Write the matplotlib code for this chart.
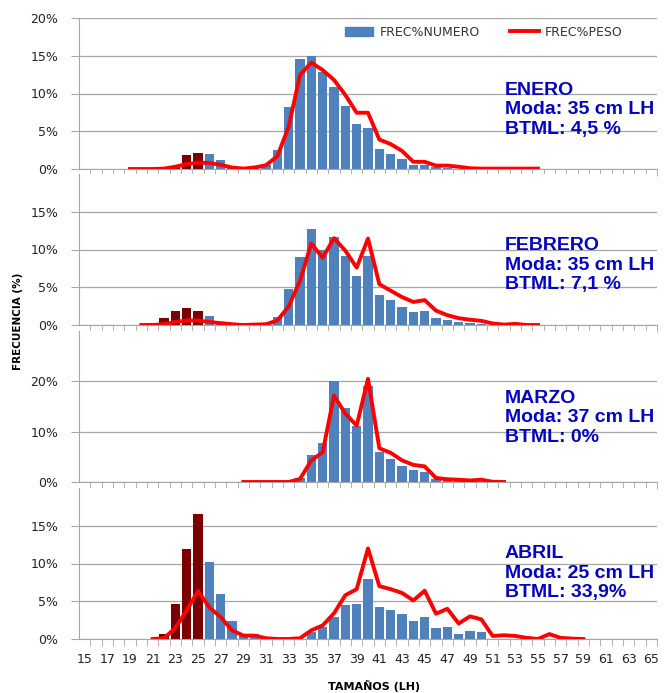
import numpy as np
import matplotlib
matplotlib.use("Agg")
import matplotlib.pyplot as plt
from matplotlib.lines import Line2D
from matplotlib.patches import Patch

# tallas (cm LH), una categoria por cm
tallas = list(range(15, 66))
talla_minima = 26  # bajo talla minima legal -> barras granate

# FREC% NUMERO (barras), tallas 15..65
ene_num = [0, 0, 0, 0, 0, 0, 0, 0.2, 0.3, 1.9, 2.1, 2.0, 1.15, 0.4, 0.1, 0.2, 0.5,
           2.5, 8.2, 14.6, 15.0, 12.8, 10.8, 8.4, 5.9, 5.4, 2.65, 1.95, 1.3, 0.5, 0.5,
           0.2, 0.1, 0, 0, 0, 0, 0, 0, 0, 0, 0, 0, 0, 0, 0, 0, 0, 0, 0, 0]
feb_num = [0, 0, 0, 0, 0, 0, 0.2, 0.9, 1.9, 2.25, 1.85, 1.2, 0.4, 0.1, 0, 0, 0,
           1.0, 4.75, 9.0, 12.7, 9.9, 11.6, 9.2, 6.5, 9.2, 3.95, 3.25, 2.4, 1.73, 1.9,
           0.9, 0.6, 0.4, 0.2, 0.1, 0, 0, 0, 0, 0, 0, 0, 0, 0, 0, 0, 0, 0, 0, 0]
mar_num = [0, 0, 0, 0, 0, 0, 0, 0, 0, 0, 0, 0, 0, 0, 0, 0, 0,
           0, 0, 0.7, 5.4, 7.7, 20.0, 14.8, 11.2, 19.0, 5.95, 4.6, 3.2, 2.45, 1.9,
           0.6, 0.4, 0.3, 0.2, 0, 0, 0, 0, 0, 0, 0, 0, 0, 0, 0, 0, 0, 0, 0, 0]
abr_num = [0, 0, 0, 0, 0, 0, 0, 0.7, 4.7, 11.9, 16.6, 10.25, 6.0, 2.45, 0.4, 0.6, 0,
           0, 0, 0, 0.9, 1.6, 2.9, 4.5, 4.6, 8.0, 4.3, 3.8, 3.3, 2.45, 2.9,
           1.4, 1.6, 0.7, 1.05, 0.9, 0, 0, 0, 0, 0, 0, 0, 0, 0, 0, 0, 0, 0, 0, 0]

# FREC% PESO (linea): talla inicial y valores
ene_peso_ini = 19
ene_peso = [0, 0, 0, 0.05, 0.3, 0.65, 0.85, 0.8, 0.55, 0.2, 0.05, 0.2, 0.5, 1.7, 5.6,
            12.45, 14.1, 13.1, 11.8, 9.8, 7.45, 7.45, 3.9, 3.3, 2.4, 0.95, 0.95, 0.45,
            0.45, 0.3, 0.1, 0.05, 0.05, 0.05, 0.05, 0.05, 0.05]
feb_peso_ini = 20
feb_peso = [0, 0, 0.1, 0.4, 0.6, 0.6, 0.4, 0.25, 0.1, 0, 0.05, 0.1, 0.6, 2.45, 5.85,
            10.8, 8.9, 11.5, 9.85, 7.6, 11.45, 5.4, 4.55, 3.7, 3.05, 3.3, 1.9, 1.3, 0.9,
            0.7, 0.55, 0.2, 0.05, 0.15, 0, 0]
mar_peso_ini = 29
mar_peso = [0, 0, 0, 0, 0, 0.6, 4.3, 5.9, 17.15, 13.6, 11.2, 20.5, 6.7, 5.8, 4.3, 3.4,
            3.1, 0.8, 0.55, 0.45, 0.3, 0.45, 0.05, 0]
abr_peso_ini = 21
abr_peso = [0, 0.1, 1.45, 3.8, 6.35, 4.2, 2.9, 1.15, 0.45, 0.45, 0.1, 0, 0, 0.1, 1.15,
            1.8, 3.4, 5.8, 6.6, 12.0, 7.0, 6.6, 6.1, 5.1, 6.4, 3.35, 4.0, 2.05, 3.0, 2.6,
            0.4, 0.5, 0.4, 0.15, 0, 0.65, 0.15, 0.05, 0]

meses = ["ENERO", "FEBRERO", "MARZO", "ABRIL"]
modas = [35, 35, 37, 25]
btml = ["4,5 %", "7,1 %", "0%", "33,9%"]
y_max = [20, 20, 30, 20]
y_ticks = [[0, 5, 10, 15, 20], [0, 5, 10, 15], [0, 10, 20], [0, 5, 10, 15]]

numeros = [ene_num, feb_num, mar_num, abr_num]
pesos = [(ene_peso_ini, ene_peso), (feb_peso_ini, feb_peso),
         (mar_peso_ini, mar_peso), (abr_peso_ini, abr_peso)]

azul = "#4F81BD"
granate = "#7A0000"
rojo = "#FF0000"
gris = "#A6A6A6"
texto_azul = "#0505C0"

W, H = 670, 693
fig = plt.figure(figsize=(W / 100, H / 100), dpi=100)

# posiciones de los paneles en pixeles (arriba, abajo)
paneles = [(18, 169), (174, 325), (331, 482), (488, 639)]
texto_y = [0.391, 0.397, 0.424, 0.437]
x0, x1 = 79, 657

for i, (top, bot) in enumerate(paneles):
    ax = fig.add_axes([x0 / W, 1 - bot / H, (x1 - x0) / W, (bot - top) / H])
    vals = numeros[i]
    cols = [granate if t < talla_minima else azul for t in tallas]
    ax.bar(tallas, vals, width=0.82, color=cols, zorder=2)

    ini, pv = pesos[i]
    xs = list(range(ini, ini + len(pv)))
    ax.plot(xs, pv, color=rojo, lw=2.8, zorder=3, solid_joinstyle="round")

    ax.set_xlim(14.5, 65.5)
    ax.set_ylim(0, y_max[i])
    ax.set_yticks(y_ticks[i])
    ax.set_yticklabels(["%d%%" % v for v in y_ticks[i]])
    ax.yaxis.grid(True, color=gris, lw=0.9, zorder=0)
    ax.set_axisbelow(True)

    ax.set_xticks(tallas[::2])
    ax.set_xticks(np.arange(15.5, 66, 1.0), minor=True)
    ax.tick_params(axis="x", which="major", length=0, labelsize=9, pad=10,
                   labelcolor="#222222")
    ax.tick_params(axis="x", which="minor", length=5, color=gris, direction="out")
    ax.tick_params(axis="y", length=6, color=gris, labelsize=9, pad=9,
                   labelcolor="#222222")
    if i < 3:
        ax.tick_params(axis="x", which="major", labelbottom=False)

    for s in ["top", "right"]:
        ax.spines[s].set_visible(False)
    ax.spines["left"].set_color(gris)
    ax.spines["bottom"].set_color(gris)

    ax.text(0.737, texto_y[i],
            "%s\nModa: %d cm LH\nBTML: %s" % (meses[i], modas[i], btml[i]),
            transform=ax.transAxes, ha="left", va="center", color=texto_azul,
            fontsize=14, fontweight="bold", family="Liberation Sans",
            linespacing=1.22)

    if i == 0:
        handles = [Patch(color=azul), Line2D([0], [0], color=rojo, lw=2.8)]
        ax.legend(handles, ["FREC%NUMERO", "FREC%PESO"], ncol=2, frameon=False,
                  loc="center", bbox_to_anchor=(0.70, 0.905), fontsize=9,
                  handlelength=2.3, handleheight=0.7, handletextpad=0.5,
                  columnspacing=2.4, labelcolor="#333333")

fig.text(18 / W, 1 - 321 / H, "FRECUENCIA (%)", rotation=90, ha="center",
         va="center", fontsize=7.5, fontweight="bold")
fig.text(374 / W, 1 - 686 / H, "TAMAÑOS (LH)", ha="center", va="center",
         fontsize=8, fontweight="bold")

fig.savefig("out.png", dpi=100)
